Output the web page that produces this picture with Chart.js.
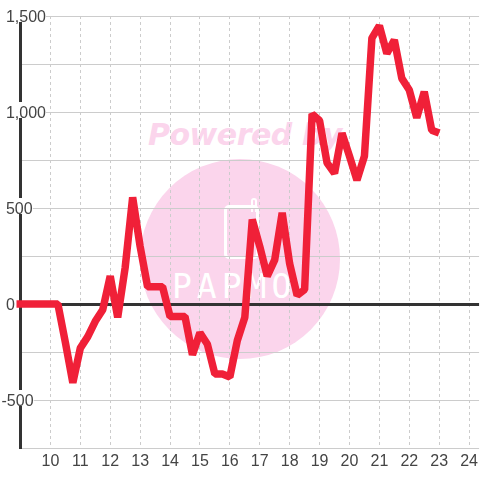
<!DOCTYPE html>
<html>
<head>
<meta charset="utf-8">
<script src="https://cdn.jsdelivr.net/npm/chart.js@4"></script>
<style>
  html, body { margin: 0; padding: 0; background: #fff; }
  #wrap { position: relative; width: 480px; height: 480px; overflow: hidden; }
  #graph { position: absolute; left: 0; top: 0; }
  #circle { position: absolute; left: 140px; top: 159px; width: 200px; height: 200px; border-radius: 50%; background: #fbd5ec; }
  #powered { position: absolute; left: 148px; top: 117px; font: italic bold 30px "DejaVu Sans"; letter-spacing: -0.5px; color: #fbd5ec; white-space: nowrap; }
  #phone { position: absolute; left: 224px; top: 205px; width: 29px; height: 48px; border: 3px solid #fff; border-radius: 5px; }
  #antenna { position: absolute; left: 251px; top: 198px; width: 2px; height: 12px; border: 2px solid #fff; border-bottom: 0; border-radius: 3px 3px 0 0; }
  #brand { position: absolute; left: 172px; top: 267px; font: 33px "DejaVu Sans Mono"; letter-spacing: 5px; color: #fff; white-space: nowrap; }
</style>
</head>
<body>
<div id="wrap">
  <div id="circle"></div>
  <div id="powered">Powered by</div>
  <div id="phone"></div>
  <div id="antenna"></div>
  <div id="brand">PAPMO</div>
  <canvas id="graph" width="484" height="480"></canvas>
</div>
<script>
// quarter hours
var hours = [8.75, 9, 9.25, 9.5, 9.75, 10, 10.25, 10.5, 10.75, 11, 11.25, 11.5, 11.75,
  12, 12.25, 12.5, 12.75, 13, 13.25, 13.5, 13.75, 14, 14.25, 14.5, 14.75,
  15, 15.25, 15.5, 15.75, 16, 16.25, 16.5, 16.75, 17, 17.25, 17.5, 17.75,
  18, 18.25, 18.5, 18.75, 19, 19.25, 19.5, 19.75, 20, 20.25, 20.5, 20.75,
  21, 21.25, 21.5, 21.75, 22, 22.25, 22.5, 22.75, 23];
var values = [0, 0, 0, 0, 0, 0, 0, -200, -410, -230, -170, -90, -30,
  145, -70, 190, 555, 300, 90, 90, 90, -65, -65, -65, -265,
  -150, -210, -365, -365, -380, -190, -70, 440, 300, 145, 230, 475,
  210, 45, 75, 990, 955, 735, 680, 890, 770, 645, 770, 1385,
  1450, 1305, 1375, 1175, 1115, 970, 1105, 905, 890];
var tickStepY = 250;
var labelStepY = 500;

const points = hours.map(function (h, i) {
  return { x: h, y: values[i] };
});

var myChart = new Chart(document.getElementById('graph'), {
  type: 'line',
  data: {
    datasets: [{
      data: points,
      borderColor: '#f02038',
      borderWidth: 7.5,
      borderJoinStyle: 'bevel',
      borderCapStyle: 'butt',
      pointRadius: 0,
      tension: 0,
      clip: { left: 4, right: 4, top: 4, bottom: 4 }
    }]
  },
  options: {
    responsive: false,
    animation: false,
    layout: { autoPadding: false, padding: { left: 0, top: 16, right: 0, bottom: 0 } },
    plugins: { legend: { display: false }, tooltip: { enabled: false } },
    scales: {
      x: {
        type: 'linear',
        min: 9,
        max: 24.3333,
        afterFit: function (scale) { scale.height = 32; },
        border: { display: false, dash: [3, 3] },
        grid: { color: '#cccccc', lineWidth: 1, drawTicks: false, tickLength: 0 },
        ticks: {
          stepSize: 1,
          includeBounds: false,
          autoSkip: false,
          maxRotation: 0,
          padding: 6,
          color: '#444444',
          font: { family: 'Liberation Sans', size: 16, lineHeight: 1 },
          callback: function (v) { return v === 9 ? '' : String(v); }
        }
      },
      y: {
        min: -750,
        max: 1500,
        afterFit: function (scale) { scale.width = 20.5; },
        border: { display: true, color: '#333333', width: 3 },
        grid: {
          drawTicks: false,
          tickLength: 0,
          color: function (c) { return c.tick.value === 0 ? '#333333' : '#cccccc'; },
          lineWidth: function (c) { return c.tick.value === 0 ? 3 : 1; }
        },
        ticks: {
          stepSize: tickStepY,
          autoSkip: false,
          mirror: true,
          padding: -19,
          z: 1,
          color: '#444444',
          // two short lines: nudges the text down 2px, the backdrop stays centred
          font: { family: 'Liberation Sans', size: 16, lineHeight: 0.25 },
          showLabelBackdrop: function (c) { return c.tick.value % labelStepY === 0; },
          backdropColor: '#ffffff',
          backdropPadding: { top: 4, bottom: 4, left: 0, right: 0 },
          callback: function (v) {
            if (v % labelStepY !== 0) return '';
            var s = Math.abs(v).toLocaleString('en-US');
            return ['', v < 0 ? '-' + s : ' ' + s];
          }
        }
      }
    }
  }
});
</script>
</body>
</html>
